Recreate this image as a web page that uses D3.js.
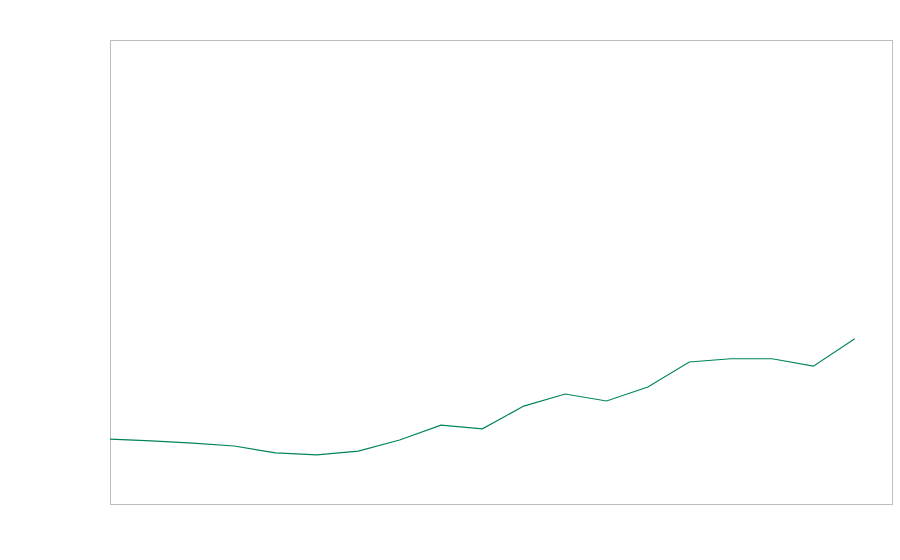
<!DOCTYPE html>
<html>
<head>
<meta charset="utf-8">
<script src="https://cdn.jsdelivr.net/npm/d3@7"></script>
<style>
  body { margin: 0; background: #fff; }
  svg { display: block; }
</style>
</head>
<body>
<div id="chart"></div>
<script>
// series values (arbitrary units)
const steps = d3.range(19);
const values = [14.0, 13.6, 13.1, 12.5, 11.0, 10.6, 11.4, 13.8, 17.0, 16.2,
                21.1, 23.7, 22.2, 25.2, 30.6, 31.3, 31.3, 29.7, 35.6];

const W = 900, H = 560;
const margin = { top: 40, right: 8, bottom: 56, left: 110 };
const width = W - margin.left - margin.right;
const height = H - margin.top - margin.bottom;

const svg = d3.select("#chart")
    .append("svg")
    .attr("width", W)
    .attr("height", H);

const g = svg.append("g")
    .attr("transform", `translate(${margin.left},${margin.top})`);

const x = d3.scaleLinear()
    .domain([0, 18.9])
    .range([0, width]);

const y = d3.scaleLinear()
    .domain([0, 100])
    .range([height, 0]);

// frame
g.append("rect")
    .attr("x", 0.5)
    .attr("y", 0.5)
    .attr("width", width)
    .attr("height", height)
    .attr("fill", "none")
    .attr("stroke", "#bdbdbd")
    .attr("stroke-width", 1);

const line = d3.line()
    .x((d, i) => x(steps[i]))
    .y(d => y(d));

g.append("path")
    .datum(values)
    .attr("d", line)
    .attr("fill", "none")
    .attr("stroke", "#00845a")
    .attr("stroke-width", 1.2);
</script>
</body>
</html>
